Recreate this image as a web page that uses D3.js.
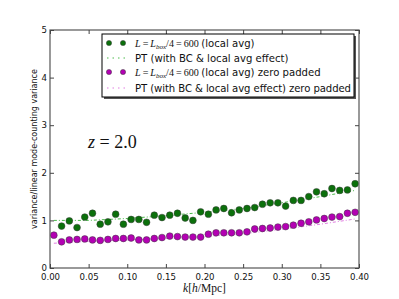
<!DOCTYPE html>
<html>
<head>
<meta charset="utf-8">
<script src="https://cdn.jsdelivr.net/npm/d3@7"></script>
<style>
  body { margin: 0; background: #fff; }
  svg text { font-family: "DejaVu Sans", sans-serif; }
  .math { font-family: "Liberation Serif", "DejaVu Serif", serif; }
</style>
</head>
<body>
<div id="chart"></div>
<script>
// binned mode-counting variance, local avg
const greenK = [0.015, 0.025, 0.035, 0.045, 0.055, 0.065, 0.075, 0.085, 0.095, 0.105,
  0.115, 0.125, 0.135, 0.145, 0.155, 0.165, 0.175, 0.185, 0.195, 0.205,
  0.215, 0.225, 0.235, 0.245, 0.255, 0.265, 0.275, 0.285, 0.295, 0.305,
  0.315, 0.325, 0.335, 0.345, 0.355, 0.365, 0.375, 0.385, 0.395];
const greenV = [0.88, 0.99, 0.85, 1.07, 1.15, 0.92, 0.97, 1.13, 0.92, 1.02,
  1.02, 0.96, 1.11, 1.06, 1.11, 1.15, 1.05, 1.00, 1.18, 1.13,
  1.22, 1.25, 1.16, 1.22, 1.25, 1.27, 1.34, 1.37, 1.37, 1.30,
  1.42, 1.42, 1.50, 1.60, 1.56, 1.67, 1.63, 1.64, 1.77];

// zero padded
const magK = [0.005, 0.015, 0.025, 0.035, 0.045, 0.055, 0.065, 0.075, 0.085, 0.095,
  0.105, 0.115, 0.125, 0.135, 0.145, 0.155, 0.165, 0.175, 0.185, 0.195,
  0.205, 0.215, 0.225, 0.235, 0.245, 0.255, 0.265, 0.275, 0.285, 0.295,
  0.305, 0.315, 0.325, 0.335, 0.345, 0.355, 0.365, 0.375, 0.385, 0.395];
const magV = [0.69, 0.55, 0.59, 0.60, 0.61, 0.59, 0.58, 0.60, 0.62, 0.62,
  0.63, 0.59, 0.59, 0.62, 0.64, 0.67, 0.66, 0.65, 0.65, 0.65,
  0.71, 0.74, 0.74, 0.74, 0.74, 0.76, 0.82, 0.83, 0.84, 0.86,
  0.87, 0.90, 0.94, 0.97, 1.01, 1.04, 1.07, 1.08, 1.15, 1.17];

// PT predictions
const ptK = [0.005, 0.05, 0.10, 0.15, 0.20, 0.25, 0.30, 0.35, 0.395];
const ptGreen = [1.00, 1.00, 1.04, 1.10, 1.17, 1.25, 1.37, 1.50, 1.63];
const ptMag = [0.52, 0.56, 0.59, 0.62, 0.66, 0.72, 0.81, 0.92, 1.03];

const xTicks = [0, 0.05, 0.10, 0.15, 0.20, 0.25, 0.30, 0.35, 0.40];
const yTicks = [0, 1, 2, 3, 4, 5];

const W = 399, H = 299;
const margin = { top: 30, right: 40, bottom: 31, left: 50 };
const iw = W - margin.left - margin.right;
const ih = H - margin.top - margin.bottom;

const svg = d3.select("#chart").append("svg")
  .attr("width", W).attr("height", H);

const g = svg.append("g")
  .attr("transform", `translate(${margin.left},${margin.top})`);

const x = d3.scaleLinear().domain([0, 0.40]).range([0, iw]);
const y = d3.scaleLinear().domain([0, 5]).range([ih, 0]);

const greenDot = "#0b700b", magDot = "#b300b3";
const greenLine = "#4dbb4d", magLine = "#e27ee2";

// PT lines
const line = d3.line().x((d, i) => x(ptK[i])).y(d => y(d));
g.append("path").datum(ptGreen)
  .attr("d", line).attr("fill", "none")
  .attr("stroke", greenLine).attr("stroke-width", 1)
  .attr("stroke-dasharray", "3,2,1,2");
g.append("path").datum(ptMag)
  .attr("d", line).attr("fill", "none")
  .attr("stroke", magLine).attr("stroke-width", 1)
  .attr("stroke-dasharray", "3,2,1,2");

// dots
function dots(ks, vs, col) {
  g.append("g").selectAll("circle")
    .data(vs)
    .enter()
    .append("circle")
    .attr("cx", (d, i) => x(ks[i]))
    .attr("cy", d => y(d))
    .attr("r", 3.4)
    .attr("fill", col)
    .attr("stroke", "#3a3a3a")
    .attr("stroke-width", 0.5);
}
dots(greenK, greenV, greenDot);
dots(magK, magV, magDot);

// frame
g.append("rect")
  .attr("width", iw).attr("height", ih)
  .attr("fill", "none").attr("stroke", "#555").attr("stroke-width", 1.2);

// axes, ticks pointing inward
g.append("g").attr("transform", `translate(0,${ih})`)
  .call(d3.axisBottom(x).tickValues(xTicks).tickFormat(d3.format(".2f")).tickSizeInner(-4).tickSizeOuter(0).tickPadding(6));
g.append("g")
  .call(d3.axisLeft(y).tickValues(yTicks).tickFormat(d3.format("d")).tickSizeInner(-4).tickSizeOuter(0).tickPadding(3));
g.append("g").attr("transform", `translate(${iw},0)`)
  .call(d3.axisRight(y).tickValues(yTicks).tickFormat("").tickSizeInner(-4).tickSizeOuter(0));
g.append("g")
  .call(d3.axisTop(x).tickValues(xTicks).tickFormat("").tickSizeInner(-4).tickSizeOuter(0));

g.selectAll(".domain").remove();
g.selectAll(".tick line").attr("stroke", "#444");
g.selectAll(".tick text").attr("fill", "#111").style("font-size", "8.6px")
  .style("font-family", "DejaVu Sans, sans-serif");

// axis labels
svg.append("text")
  .attr("transform", `translate(37,${margin.top + ih / 2}) rotate(-90)`)
  .attr("text-anchor", "middle")
  .style("font-size", "8px")
  .attr("fill", "#111")
  .text("variance/linear mode-counting variance");

const xl = svg.append("text")
  .attr("class", "math")
  .attr("x", margin.left + iw / 2).attr("y", 292)
  .attr("text-anchor", "middle")
  .style("font-size", "11.5px")
  .attr("fill", "#111");
xl.append("tspan").style("font-style", "italic").text("k");
xl.append("tspan").text("[");
xl.append("tspan").style("font-style", "italic").text("h");
xl.append("tspan").text("/Mpc]");

// redshift annotation
const zt = svg.append("text")
  .attr("class", "math")
  .attr("x", 88).attr("y", 148)
  .style("font-size", "18px")
  .attr("fill", "#111");
zt.append("tspan").style("font-style", "italic").text("z");
zt.append("tspan").text(" = 2.0");

// legend
const lg = svg.append("g");
const lx = 102, ly = 34, lw = 252, lh = 63;
lg.append("rect").attr("x", lx + 2).attr("y", ly + 2).attr("width", lw).attr("height", lh)
  .attr("fill", "#555");
lg.append("rect").attr("x", lx).attr("y", ly).attr("width", lw).attr("height", lh)
  .attr("fill", "#fff").attr("stroke", "#000").attr("stroke-width", 1);

const entries = [
  { type: "dot", col: greenDot, label: "(local avg)" },
  { type: "line", col: greenLine, label: "PT (with BC & local avg effect)" },
  { type: "dot", col: magDot, label: "(local avg) zero padded" },
  { type: "line", col: magLine, label: "PT (with BC & local avg effect) zero padded" }
];
const rowY = [43, 58, 72, 88];
const legendFont = "10.1px";

entries.forEach((e, i) => {
  const yy = rowY[i];
  if (e.type === "dot") {
    [109, 123].forEach(cx => {
      lg.append("circle").attr("cx", cx).attr("cy", yy).attr("r", 2.6)
        .attr("fill", e.col).attr("stroke", "#3a3a3a").attr("stroke-width", 0.5);
    });
    const t = lg.append("text").attr("x", 135).attr("y", yy + 3.6)
      .style("font-size", legendFont).attr("fill", "#111");
    t.append("tspan").style("font-family", "Liberation Serif, serif").style("font-style", "italic").text("L");
    t.append("tspan").style("font-family", "Liberation Serif, serif").text("\u2009=\u2009");
    t.append("tspan").style("font-family", "Liberation Serif, serif").style("font-style", "italic").text("L");
    t.append("tspan").style("font-family", "Liberation Serif, serif").style("font-style", "italic")
      .style("font-size", "7px").attr("dy", 2).text("box");
    t.append("tspan").style("font-family", "Liberation Serif, serif").attr("dy", -2).text("/4\u2009=\u2009600 ");
    t.append("tspan").text(e.label);
  } else {
    lg.append("line").attr("x1", 107).attr("x2", 126).attr("y1", yy).attr("y2", yy)
      .attr("stroke", e.col).attr("stroke-width", 1.2).attr("stroke-dasharray", "1.5,4");
    lg.append("text").attr("x", 135).attr("y", yy + 3.6)
      .style("font-size", legendFont).attr("fill", "#111")
      .attr("textLength", i === 3 ? 216 : null)
      .text(e.label);
  }
});
</script>
</body>
</html>
